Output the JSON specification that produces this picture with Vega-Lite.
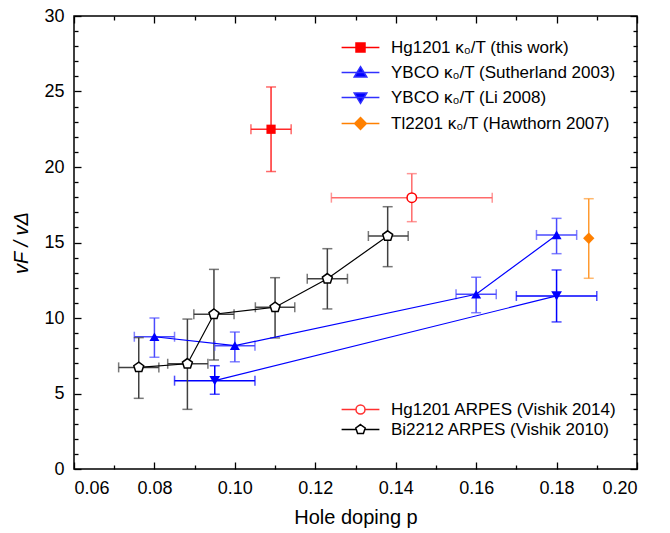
{
  "$schema": "https://vega.github.io/schema/vega-lite/v6.json",
  "width": 563,
  "height": 453,
  "autosize": {"type": "none"},
  "padding": {"left": 74, "top": 16, "right": 33, "bottom": 64},
  "background": "white",
  "config": {
    "view": {"stroke": "#000000", "strokeWidth": 1.5},
    "font": "Liberation Sans",
    "axis": {"grid": false, "domain": false, "tickColor": "#000000", "tickWidth": 1.3, "labelColor": "#000000", "titleColor": "#000000", "labelFont": "Liberation Sans", "titleFont": "Liberation Sans", "labelFontSize": 18, "titleFontSize": 20, "titleFontWeight": "normal"},
    "legend": {"padding": 0, "labelFont": "Liberation Sans", "labelFontSize": 17, "labelColor": "#000000", "labelLimit": 0, "symbolStrokeWidth": 1.5, "symbolSize": 81}
  },
  "data": {
    "values": [
      {"s": "Hg1201 κ₀/T (this work)", "p": 0.109, "v": 22.5, "plo": 0.104, "phi": 0.114, "vlo": 19.7, "vhi": 25.3},
      {"s": "YBCO κ₀/T (Sutherland 2003)", "p": 0.08, "v": 8.76, "plo": 0.075, "phi": 0.085, "vlo": 7.4, "vhi": 10.0},
      {"s": "YBCO κ₀/T (Sutherland 2003)", "p": 0.10, "v": 8.17, "plo": 0.095, "phi": 0.105, "vlo": 7.1, "vhi": 9.07},
      {"s": "YBCO κ₀/T (Sutherland 2003)", "p": 0.16, "v": 11.57, "plo": 0.155, "phi": 0.165, "vlo": 10.35, "vhi": 12.7},
      {"s": "YBCO κ₀/T (Sutherland 2003)", "p": 0.18, "v": 15.5, "plo": 0.175, "phi": 0.185, "vlo": 14.26, "vhi": 16.6},
      {"s": "YBCO κ₀/T (Li 2008)", "p": 0.095, "v": 5.85, "plo": 0.085, "phi": 0.105, "vlo": 4.95, "vhi": 6.84},
      {"s": "YBCO κ₀/T (Li 2008)", "p": 0.18, "v": 11.46, "plo": 0.17, "phi": 0.19, "vlo": 9.74, "vhi": 13.18},
      {"s": "Tl2201 κ₀/T (Hawthorn 2007)", "p": 0.188, "v": 15.28, "plo": null, "phi": null, "vlo": 12.63, "vhi": 17.9},
      {"s": "Hg1201 ARPES (Vishik 2014)", "p": 0.144, "v": 17.97, "plo": 0.124, "phi": 0.164, "vlo": 16.38, "vhi": 19.56},
      {"s": "Bi2212 ARPES (Vishik 2010)", "p": 0.0761, "v": 6.73, "plo": 0.0711, "phi": 0.0811, "vlo": 4.68, "vhi": 8.7},
      {"s": "Bi2212 ARPES (Vishik 2010)", "p": 0.0882, "v": 6.97, "plo": 0.0833, "phi": 0.0933, "vlo": 3.95, "vhi": 9.93},
      {"s": "Bi2212 ARPES (Vishik 2010)", "p": 0.0948, "v": 10.25, "plo": 0.0898, "phi": 0.0998, "vlo": 7.22, "vhi": 13.22},
      {"s": "Bi2212 ARPES (Vishik 2010)", "p": 0.11, "v": 10.71, "plo": 0.1051, "phi": 0.1149, "vlo": 8.68, "vhi": 12.67},
      {"s": "Bi2212 ARPES (Vishik 2010)", "p": 0.123, "v": 12.6, "plo": 0.118, "phi": 0.128, "vlo": 10.6, "vhi": 14.59},
      {"s": "Bi2212 ARPES (Vishik 2010)", "p": 0.138, "v": 15.43, "plo": 0.1332, "phi": 0.1431, "vlo": 13.4, "vhi": 17.37}
    ]
  },
  "resolve": {
    "axis": {"x": "independent", "y": "independent"},
    "scale": {"color": "independent", "shape": "independent", "fill": "independent", "stroke": "independent", "size": "independent"}
  },
  "layer": [
    {
      "transform": [{"filter": "isValid(datum.plo)"}],
      "mark": {"type": "rule", "strokeWidth": 1.5},
      "encoding": {
        "x": {"field": "plo", "type": "quantitative", "scale": {"domain": [0.06, 0.2], "nice": false, "zero": false},
          "axis": {"orient": "bottom", "values": [0.06, 0.08, 0.1, 0.12, 0.14, 0.16, 0.18, 0.2], "format": ".2f", "tickSize": -7, "labelPadding": 17, "title": "Hole doping p", "titlePadding": 10}},
        "x2": {"field": "phi"},
        "y": {"field": "v", "type": "quantitative", "scale": {"domain": [0, 30], "nice": false, "zero": false},
          "axis": {"orient": "left", "values": [0, 5, 10, 15, 20, 25, 30], "tickSize": -7, "labelPadding": 17, "title": "vF / vΔ", "titleFontStyle": "italic", "titlePadding": 12}},
        "color": {"field": "s", "type": "nominal", "legend": null,
          "scale": {"domain": ["Hg1201 κ₀/T (this work)", "YBCO κ₀/T (Sutherland 2003)", "YBCO κ₀/T (Li 2008)", "Tl2201 κ₀/T (Hawthorn 2007)", "Hg1201 ARPES (Vishik 2014)", "Bi2212 ARPES (Vishik 2010)"],
            "range": ["#ff2a2a", "#4a4aff", "#0000ff", "#ff9a30", "#ff6a6a", "#404040"]}}
      }
    },
    {
      "mark": {"type": "rule", "strokeWidth": 1.5},
      "encoding": {
        "x": {"field": "p", "type": "quantitative", "scale": {"domain": [0.06, 0.2], "nice": false, "zero": false},
          "axis": {"orient": "bottom", "values": [0.07, 0.09, 0.11, 0.13, 0.15, 0.17, 0.19], "tickSize": -4, "labels": false, "title": null}},
        "y": {"field": "vlo", "type": "quantitative", "scale": {"domain": [0, 30], "nice": false, "zero": false},
          "axis": {"orient": "left", "values": [1, 2, 3, 4, 6, 7, 8, 9, 11, 12, 13, 14, 16, 17, 18, 19, 21, 22, 23, 24, 26, 27, 28, 29], "tickSize": -4, "labels": false, "title": null}},
        "y2": {"field": "vhi"},
        "color": {"field": "s", "type": "nominal", "legend": null,
          "scale": {"domain": ["Hg1201 κ₀/T (this work)", "YBCO κ₀/T (Sutherland 2003)", "YBCO κ₀/T (Li 2008)", "Tl2201 κ₀/T (Hawthorn 2007)", "Hg1201 ARPES (Vishik 2014)", "Bi2212 ARPES (Vishik 2010)"],
            "range": ["#ff2a2a", "#4a4aff", "#0000ff", "#ff9a30", "#ff6a6a", "#404040"]}}
      }
    },
    {
      "transform": [{"fold": ["plo", "phi"], "as": ["k", "xv"]}, {"filter": "isValid(datum.xv)"}],
      "mark": {"type": "tick", "orient": "vertical", "size": 10, "thickness": 1.5},
      "encoding": {
        "x": {"field": "xv", "type": "quantitative", "scale": {"domain": [0.06, 0.2], "nice": false, "zero": false},
          "axis": {"orient": "top", "values": [0.06, 0.08, 0.1, 0.12, 0.14, 0.16, 0.18, 0.2], "tickSize": -7, "labels": false, "title": null}},
        "y": {"field": "v", "type": "quantitative", "scale": {"domain": [0, 30], "nice": false, "zero": false},
          "axis": {"orient": "right", "values": [0, 5, 10, 15, 20, 25, 30], "tickSize": -7, "labels": false, "title": null}},
        "color": {"field": "s", "type": "nominal", "legend": null,
          "scale": {"domain": ["Hg1201 κ₀/T (this work)", "YBCO κ₀/T (Sutherland 2003)", "YBCO κ₀/T (Li 2008)", "Tl2201 κ₀/T (Hawthorn 2007)", "Hg1201 ARPES (Vishik 2014)", "Bi2212 ARPES (Vishik 2010)"],
            "range": ["#ff2a2a", "#4a4aff", "#0000ff", "#ff9a30", "#ff6a6a", "#404040"]}}
      }
    },
    {
      "transform": [{"fold": ["vlo", "vhi"], "as": ["k", "yv"]}, {"filter": "isValid(datum.yv)"}],
      "mark": {"type": "tick", "orient": "horizontal", "size": 10, "thickness": 1.5},
      "encoding": {
        "x": {"field": "p", "type": "quantitative", "scale": {"domain": [0.06, 0.2], "nice": false, "zero": false},
          "axis": {"orient": "top", "values": [0.07, 0.09, 0.11, 0.13, 0.15, 0.17, 0.19], "tickSize": -4, "labels": false, "title": null}},
        "y": {"field": "yv", "type": "quantitative", "scale": {"domain": [0, 30], "nice": false, "zero": false},
          "axis": {"orient": "right", "values": [1, 2, 3, 4, 6, 7, 8, 9, 11, 12, 13, 14, 16, 17, 18, 19, 21, 22, 23, 24, 26, 27, 28, 29], "tickSize": -4, "labels": false, "title": null}},
        "color": {"field": "s", "type": "nominal", "legend": null,
          "scale": {"domain": ["Hg1201 κ₀/T (this work)", "YBCO κ₀/T (Sutherland 2003)", "YBCO κ₀/T (Li 2008)", "Tl2201 κ₀/T (Hawthorn 2007)", "Hg1201 ARPES (Vishik 2014)", "Bi2212 ARPES (Vishik 2010)"],
            "range": ["#ff2a2a", "#4a4aff", "#0000ff", "#ff9a30", "#ff6a6a", "#404040"]}}
      }
    },
    {
      "transform": [{"filter": "datum.s === 'YBCO κ₀/T (Sutherland 2003)' || datum.s === 'YBCO κ₀/T (Li 2008)' || datum.s === 'Bi2212 ARPES (Vishik 2010)'"}],
      "mark": {"type": "line", "strokeWidth": 1.2},
      "encoding": {
        "x": {"field": "p", "type": "quantitative", "scale": {"domain": [0.06, 0.2], "nice": false, "zero": false}, "axis": null},
        "y": {"field": "v", "type": "quantitative", "scale": {"domain": [0, 30], "nice": false, "zero": false}, "axis": null},
        "detail": {"field": "s", "type": "nominal"},
        "color": {"field": "s", "type": "nominal", "legend": null,
          "scale": {"domain": ["YBCO κ₀/T (Sutherland 2003)", "YBCO κ₀/T (Li 2008)", "Bi2212 ARPES (Vishik 2010)"],
            "range": ["#0000ff", "#0000ff", "#000000"]}}
      }
    },
    {
      "transform": [{"filter": "indexof(datum.s, 'κ') >= 0"}],
      "mark": {"type": "point", "filled": true, "opacity": 1},
      "encoding": {
        "x": {"field": "p", "type": "quantitative", "scale": {"domain": [0.06, 0.2], "nice": false, "zero": false}, "axis": null},
        "y": {"field": "v", "type": "quantitative", "scale": {"domain": [0, 30], "nice": false, "zero": false}, "axis": null},
        "color": {"field": "s", "type": "nominal", "legend": null,
          "scale": {"domain": ["Hg1201 κ₀/T (this work)", "YBCO κ₀/T (Sutherland 2003)", "YBCO κ₀/T (Li 2008)", "Tl2201 κ₀/T (Hawthorn 2007)"],
            "range": ["#ff0000", "#0000ff", "#0000ff", "#ff8000"]}},
        "shape": {"field": "s", "type": "nominal", "legend": null,
          "scale": {"domain": ["Hg1201 κ₀/T (this work)", "YBCO κ₀/T (Sutherland 2003)", "YBCO κ₀/T (Li 2008)", "Tl2201 κ₀/T (Hawthorn 2007)"],
            "range": ["square", "triangle-up", "triangle-down", "diamond"]}},
        "size": {"field": "s", "type": "nominal", "legend": null,
          "scale": {"domain": ["Hg1201 κ₀/T (this work)", "YBCO κ₀/T (Sutherland 2003)", "YBCO κ₀/T (Li 2008)", "Tl2201 κ₀/T (Hawthorn 2007)"],
            "range": [85, 130, 130, 170]}}
      }
    },
    {
      "transform": [{"filter": "indexof(datum.s, 'ARPES') >= 0"}],
      "mark": {"type": "point", "filled": false, "fill": "#ffffff", "fillOpacity": 1, "opacity": 1, "strokeWidth": 1.5, "size": 90},
      "encoding": {
        "x": {"field": "p", "type": "quantitative", "scale": {"domain": [0.06, 0.2], "nice": false, "zero": false}, "axis": null},
        "y": {"field": "v", "type": "quantitative", "scale": {"domain": [0, 30], "nice": false, "zero": false}, "axis": null},
        "color": {"field": "s", "type": "nominal", "legend": null,
          "scale": {"domain": ["Hg1201 ARPES (Vishik 2014)", "Bi2212 ARPES (Vishik 2010)"], "range": ["#ff0000", "#000000"]}},
        "shape": {"field": "s", "type": "nominal", "legend": null,
          "scale": {"domain": ["Hg1201 ARPES (Vishik 2014)", "Bi2212 ARPES (Vishik 2010)"],
            "range": ["circle", "M0,-1.1L1.046,-0.34L0.647,0.89L-0.647,0.89L-1.046,-0.34Z"]}}
      }
    },
    {
      "transform": [{"filter": "datum.p < 0"}],
      "mark": {"type": "point", "filled": true, "size": 81, "strokeWidth": 1.5},
      "encoding": {
        "x": {"field": "p", "type": "quantitative", "scale": {"domain": [0.06, 0.2], "nice": false, "zero": false}, "axis": null},
        "y": {"field": "v", "type": "quantitative", "scale": {"domain": [0, 30], "nice": false, "zero": false}, "axis": null},
        "fill": {"field": "s", "type": "nominal",
          "scale": {"domain": ["Hg1201 κ₀/T (this work)", "YBCO κ₀/T (Sutherland 2003)", "YBCO κ₀/T (Li 2008)", "Tl2201 κ₀/T (Hawthorn 2007)"],
            "range": ["#ff0000", "#0000ff", "#0000ff", "#ff8000"]},
          "legend": {"orient": "none", "legendX": 278, "legendY": 23, "title": null, "rowPadding": 7, "labelOffset": 22, "symbolOpacity": 1}},
        "stroke": {"field": "s", "type": "nominal",
          "scale": {"domain": ["Hg1201 κ₀/T (this work)", "YBCO κ₀/T (Sutherland 2003)", "YBCO κ₀/T (Li 2008)", "Tl2201 κ₀/T (Hawthorn 2007)"],
            "range": ["#ff0000", "#3030ff", "#3030ff", "#ff8000"]},
          "legend": {"orient": "none", "legendX": 278, "legendY": 23, "title": null, "rowPadding": 7, "labelOffset": 22, "symbolOpacity": 1}},
        "shape": {"field": "s", "type": "nominal",
          "scale": {"domain": ["Hg1201 κ₀/T (this work)", "YBCO κ₀/T (Sutherland 2003)", "YBCO κ₀/T (Li 2008)", "Tl2201 κ₀/T (Hawthorn 2007)"],
            "range": ["M-4.2,0H4.2M-1,-1H1V1H-1Z", "M-4.2,0H4.2M0,-1.3L1.4,1L-1.4,1Z", "M-4.2,0H4.2M0,1.3L1.4,-1L-1.4,-1Z", "M-4.2,0H4.2M0,-1.3L1.3,0L0,1.3L-1.3,0Z"]},
          "legend": {"orient": "none", "legendX": 278, "legendY": 23, "title": null, "rowPadding": 7, "labelOffset": 22, "symbolOpacity": 1}}
      }
    },
    {
      "transform": [{"filter": "datum.p < 0"}],
      "mark": {"type": "point", "filled": true, "size": 81, "strokeWidth": 1.5},
      "encoding": {
        "x": {"field": "p", "type": "quantitative", "scale": {"domain": [0.06, 0.2], "nice": false, "zero": false}, "axis": null},
        "y": {"field": "v", "type": "quantitative", "scale": {"domain": [0, 30], "nice": false, "zero": false}, "axis": null},
        "fill": {"field": "s", "type": "nominal",
          "scale": {"domain": ["Hg1201 ARPES (Vishik 2014)", "Bi2212 ARPES (Vishik 2010)"], "range": ["#ffffff", "#ffffff"]},
          "legend": {"orient": "none", "legendX": 278, "legendY": 385, "title": null, "rowPadding": 2, "labelOffset": 22, "symbolOpacity": 1}},
        "stroke": {"field": "s", "type": "nominal",
          "scale": {"domain": ["Hg1201 ARPES (Vishik 2014)", "Bi2212 ARPES (Vishik 2010)"], "range": ["#ff3030", "#000000"]},
          "legend": {"orient": "none", "legendX": 278, "legendY": 385, "title": null, "rowPadding": 2, "labelOffset": 22, "symbolOpacity": 1}},
        "shape": {"field": "s", "type": "nominal",
          "scale": {"domain": ["Hg1201 ARPES (Vishik 2014)", "Bi2212 ARPES (Vishik 2010)"],
            "range": ["M-4.2,0H-1M1,0H4.2M1,0A1,1 0 1,1 -1,0A1,1 0 1,1 1,0Z", "M-4.2,0H-1M1,0H4.2M0,-1.1L1.046,-0.34L0.647,0.89L-0.647,0.89L-1.046,-0.34Z"]},
          "legend": {"orient": "none", "legendX": 278, "legendY": 385, "title": null, "rowPadding": 2, "labelOffset": 22, "symbolOpacity": 1}}
      }
    }
  ]
}
